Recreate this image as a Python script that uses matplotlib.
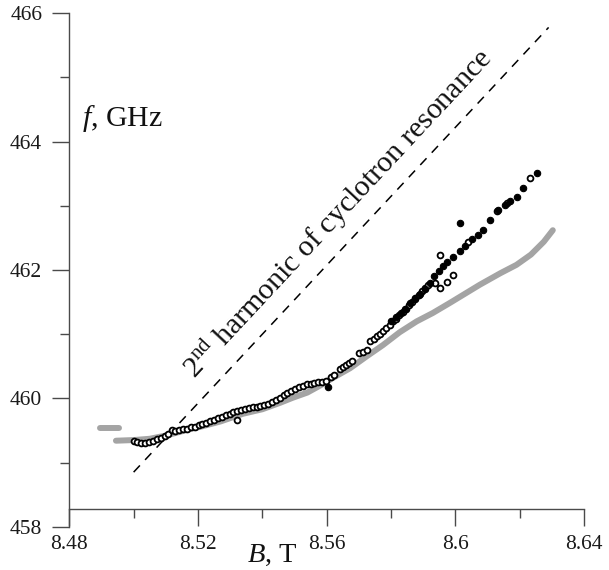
import numpy as np
import matplotlib
matplotlib.use("Agg")
import matplotlib.pyplot as plt
from matplotlib.ticker import FixedLocator, FixedFormatter

plt.rcParams['font.family'] = ['Liberation Serif', 'DejaVu Serif']
plt.rcParams['mathtext.fontset'] = 'custom'
plt.rcParams['mathtext.rm'] = 'Liberation Serif'
plt.rcParams['mathtext.it'] = 'Liberation Serif:italic'

# ---------------- data ----------------
# 2nd harmonic of cyclotron resonance (dashed line)
cr_B = [8.500, 8.629]
cr_f = [458.85, 465.78]

# grey thick curve (main) and short grey segment
gray_B = [8.4945, 8.500, 8.505, 8.510, 8.5175, 8.521, 8.527, 8.534, 8.540, 8.5455,
          8.5495, 8.554, 8.558, 8.562, 8.5673, 8.5726, 8.5775, 8.5827, 8.5880, 8.5930,
          8.5984, 8.6030, 8.6076, 8.6140, 8.6190, 8.6235, 8.6275, 8.6303]
gray_f = [459.34, 459.35, 459.37, 459.42, 459.52, 459.56, 459.64, 459.76, 459.83, 459.93,
          460.01, 460.09, 460.20, 460.32, 460.47, 460.66, 460.83, 461.03, 461.20, 461.33,
          461.49, 461.63, 461.77, 461.95, 462.08, 462.24, 462.44, 462.62]
gray2_B = [8.4895, 8.4955]
gray2_f = [459.54, 459.54]

# open markers
open_B = [8.5000, 8.5012, 8.5024, 8.5036, 8.5048, 8.5060, 8.5072, 8.5084, 8.5096, 8.5108,
          8.5118, 8.5130, 8.5142, 8.5154, 8.5166, 8.5178, 8.5190, 8.5202, 8.5214, 8.5226,
          8.5238, 8.5250, 8.5262, 8.5274, 8.5286, 8.5298, 8.5310, 8.5322, 8.5334, 8.5346,
          8.5358, 8.5370, 8.5382, 8.5394, 8.5406, 8.5418, 8.5430, 8.5442, 8.5454, 8.5466,
          8.5478, 8.5490, 8.5502, 8.5514, 8.5526, 8.5538, 8.5550, 8.5562, 8.5574, 8.5586,
          8.5598, 8.5612, 8.5622, 8.5640, 8.5650, 8.5660, 8.5670, 8.5680, 8.5700, 8.5712,
          8.5724, 8.5736, 8.5746, 8.5756, 8.5766, 8.5776, 8.5786, 8.5796, 8.5806, 8.5816,
          8.5826, 8.5836, 8.5846, 8.5856, 8.5866, 8.5876, 8.5886, 8.5896, 8.5906, 8.5916,
          8.5320, 8.5952, 8.5936, 8.5952, 8.5974, 8.5993, 8.6040, 8.6130, 8.6162, 8.6232]
open_f = [459.33, 459.32, 459.31, 459.31, 459.32, 459.34, 459.36, 459.38, 459.41, 459.45,
          459.50, 459.49, 459.51, 459.52, 459.53, 459.55, 459.56, 459.58, 459.60, 459.62,
          459.64, 459.66, 459.69, 459.71, 459.74, 459.76, 459.78, 459.80, 459.82, 459.84,
          459.85, 459.86, 459.87, 459.88, 459.89, 459.91, 459.94, 459.97, 460.01, 460.05,
          460.08, 460.11, 460.15, 460.18, 460.20, 460.22, 460.23, 460.24, 460.25, 460.26,
          460.27, 460.33, 460.37, 460.46, 460.49, 460.52, 460.55, 460.58, 460.70, 460.73,
          460.76, 460.89, 460.93, 460.97, 461.01, 461.05, 461.10, 461.15, 461.20, 461.24,
          461.30, 461.35, 461.40, 461.45, 461.50, 461.56, 461.61, 461.67, 461.72, 461.77,
          459.66, 462.24, 461.80, 461.72, 461.81, 461.92, 462.43, 462.92, 463.05, 463.43]

# filled markers
fill_B = [8.5604, 8.5800, 8.5815, 8.5830, 8.5845, 8.5860, 8.5875, 8.5890, 8.5905, 8.5920,
          8.5935, 8.5950, 8.5962, 8.5974, 8.5993, 8.6015, 8.6030, 8.6052, 8.6070, 8.6086,
          8.6108, 8.6133, 8.6154, 8.6170, 8.6192, 8.6210, 8.6254, 8.6015]
fill_f = [460.17, 461.20, 461.26, 461.33, 461.40, 461.48, 461.55, 461.63, 461.71, 461.80,
          461.90, 461.98, 462.06, 462.13, 462.20, 462.30, 462.38, 462.48, 462.55, 462.62,
          462.78, 462.93, 463.01, 463.08, 463.14, 463.27, 463.51, 462.73]

x_major = [8.48, 8.52, 8.56, 8.60, 8.64]
x_labels = ['8.48', '8.52', '8.56', '8.6', '8.64']
x_minor = [8.50, 8.54, 8.58, 8.62]
y_major = [458, 460, 462, 464, 466]
y_labels = ['458', '460', '462', '464', '466']
y_minor = [459, 461, 463, 465]

# ---------------- figure ----------------
W, H = 609, 570
fig = plt.figure(figsize=(W / 100, H / 100), dpi=100)
ax = fig.add_axes([69.3 / W, 1 - 526.7 / H, (584 - 69.3) / W, (526.7 - 13.3) / H])
ax.set_xlim(8.48, 8.64)
ax.set_ylim(458, 466)

spine_col = '#4a4a4a'
for s in ['top', 'right']:
    ax.spines[s].set_visible(False)
ax.spines['bottom'].set_position(('data', 458.27))
for s in ['left', 'bottom']:
    ax.spines[s].set_color(spine_col)
    ax.spines[s].set_linewidth(1.0)

ax.xaxis.set_major_locator(FixedLocator(x_major))
ax.xaxis.set_major_formatter(FixedFormatter(x_labels))
ax.xaxis.set_minor_locator(FixedLocator(x_minor))
ax.yaxis.set_major_locator(FixedLocator(y_major))
ax.yaxis.set_major_formatter(FixedFormatter(y_labels))
ax.yaxis.set_minor_locator(FixedLocator(y_minor))
ax.tick_params(axis='both', which='major', direction='out', length=12.5, width=1.0,
               color=spine_col, labelsize=15.5, labelcolor='#1a1a1a')
ax.tick_params(axis='both', which='minor', direction='out', length=6.2, width=1.0,
               color=spine_col)
ax.tick_params(axis='x', which='major', pad=6)
ax.tick_params(axis='y', which='major', pad=7)

# grey curves
ax.plot(gray_B, gray_f, color='#a4a4a4', lw=4.3, solid_capstyle='round', zorder=1)
ax.plot(gray2_B, gray2_f, color='#a4a4a4', lw=4.3, solid_capstyle='round', zorder=1)

# dashed CR line
ax.plot(cr_B, cr_f, color='black', lw=1.1, dashes=(6, 5), zorder=2)

# markers
ax.plot(open_B, open_f, ls='none', marker='o', ms=4.2, mfc='white', mec='black',
        mew=1.3, zorder=3)
ax.plot(fill_B, fill_f, ls='none', marker='o', ms=4.6, mfc='black', mec='black',
        mew=0.8, zorder=4)

# rotated annotation along dashed line
p0 = ax.transData.transform((cr_B[0], cr_f[0]))
p1 = ax.transData.transform((cr_B[1], cr_f[1]))
ang = np.degrees(np.arctan2(p1[1] - p0[1], p1[0] - p0[0]))
ax.text(8.5190, 460.30, '2$^{\\mathrm{nd}}$ harmonic of cyclotron resonance',
        rotation=ang, rotation_mode='anchor', ha='left', va='baseline',
        fontsize=21.5, color='#111111')

# axis labels
fig.text(82 / W, 1 - 126 / H, '$f$, GHz', ha='left', va='baseline', fontsize=21.5,
         color='#111111')
fig.text(247 / W, 1 - 562 / H, '$B$, T', ha='left', va='baseline', fontsize=20.5,
         color='#111111')

fig.savefig('out.png', dpi=100)
